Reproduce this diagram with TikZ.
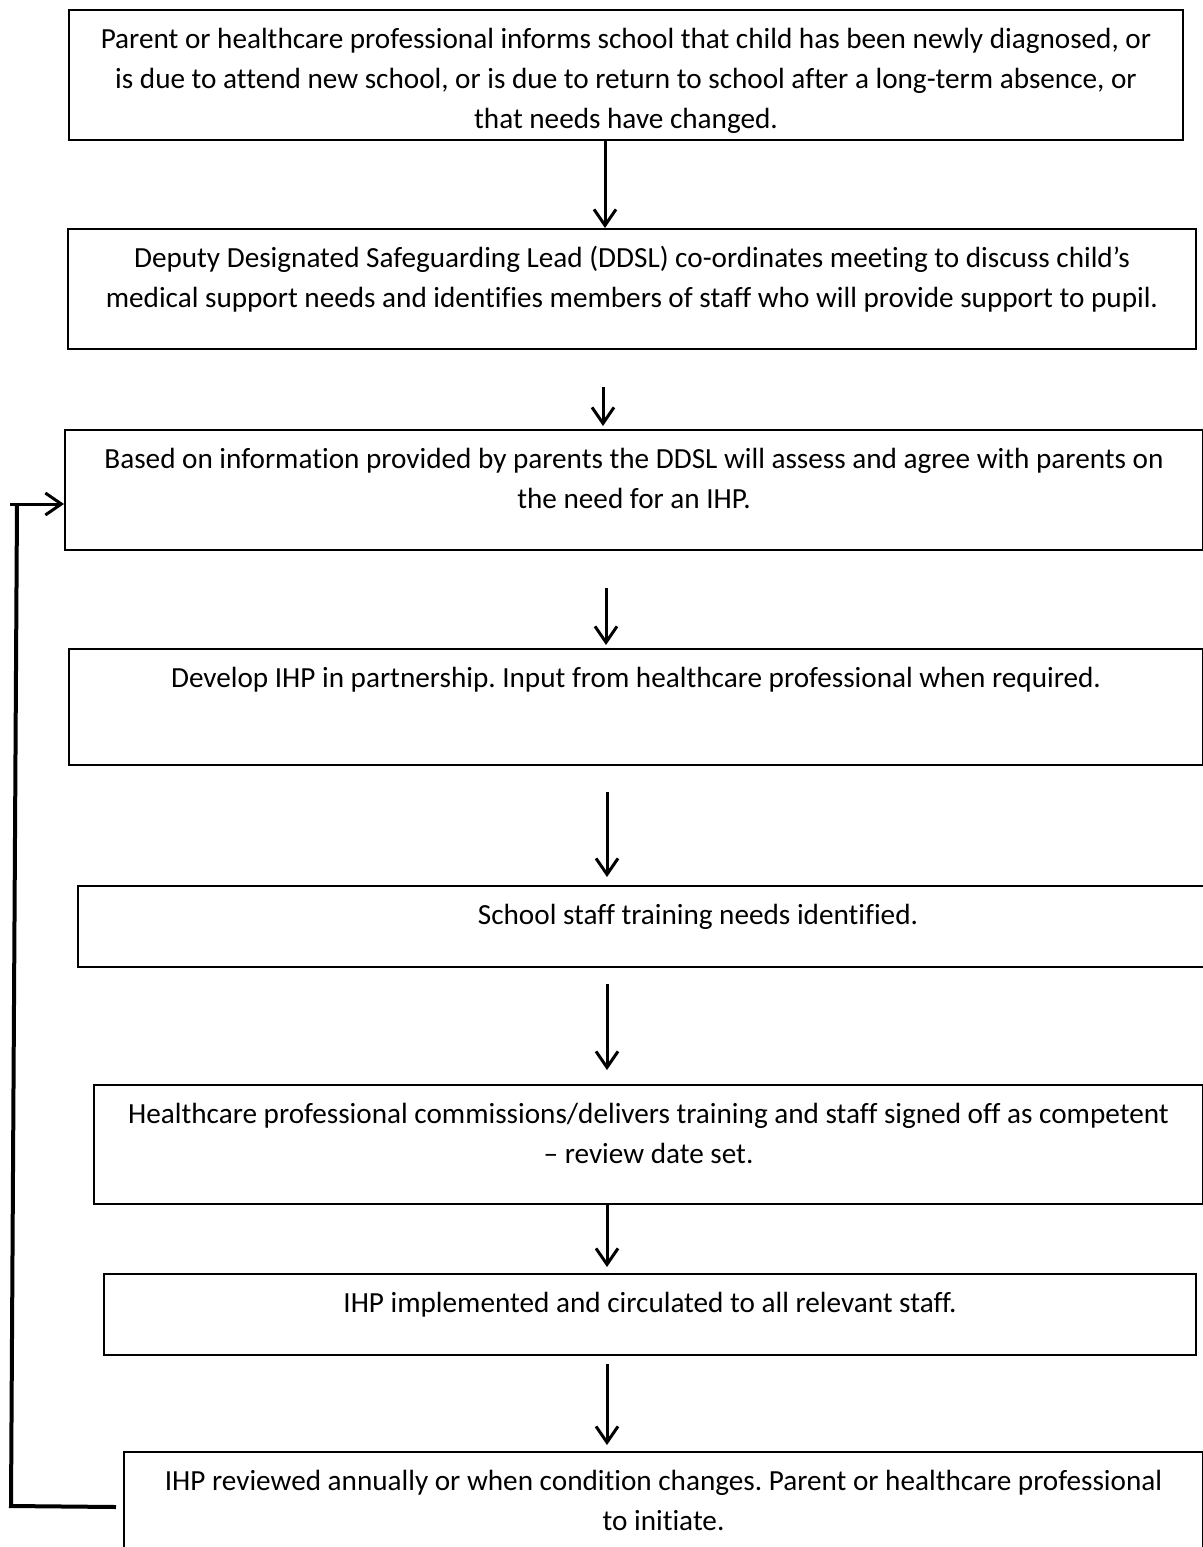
\documentclass[tikz,border=0pt]{standalone}
\usepackage{fontspec}
\setmainfont{Carlito}[Ligatures=NoCommon]
\usetikzlibrary{arrows.meta}
\frenchspacing

\tikzset{
stage/.style={draw, line width=1pt, inner sep=0pt, anchor=north west, font=\fontsize{14.6}{20}\selectfont},
flow/.style={-{Straight Barb[length=8pt, width=11pt]}, line width=1.5pt},
back/.style={line width=2pt}
}

\newcommand{\stagetext}[3]{\parbox[t][#2][t]{#1}{\centering\rule{0pt}{19pt}#3}}

\begin{document}
\begin{tikzpicture}[x=0.5pt, y=-0.5pt]

\useasboundingbox (0,0) rectangle (1203,1547);
\clip (0,0) rectangle (1203,1547);

\node[stage] (b1) at (68,9) {\stagetext{557pt}{65pt}{Parent or healthcare professional informs school that child has been newly diagnosed, or\\ is due to attend new school, or is due to return to school after a long-term absence, or\\ that needs have changed.}};

\node[stage] (b2) at (67,228) {\stagetext{564pt}{60pt}{Deputy Designated Safeguarding Lead (DDSL) co-ordinates meeting to discuss child’s\\ medical support needs and identifies members of staff who will provide support to pupil.}};

\node[stage] (b3) at (64,429) {\stagetext{569pt}{60pt}{Based on information provided by parents the DDSL will assess and agree with parents on\\ the need for an IHP.}};

\node[stage] (b4) at (68,648) {\stagetext{567pt}{58pt}{Develop IHP in partnership. Input from healthcare professional when required.}};

\node[stage] (b5) at (77,885) {\stagetext{620pt}{40.5pt}{School staff training needs identified.}};

\node[stage] (b6) at (93,1084) {\stagetext{554.5pt}{59.5pt}{Healthcare professional commissions/delivers training and staff signed off as competent\\ – review date set.}};

\node[stage] (b7) at (103,1273) {\stagetext{546pt}{40.5pt}{IHP implemented and circulated to all relevant staff.}};

\node[stage] (b8) at (123,1451) {\stagetext{539.5pt}{55pt}{IHP reviewed annually or when condition changes. Parent or healthcare professional\\ to initiate.}};

\draw[flow] (605,0 |- b1.south) -- (605,0 |- b2.north);
\draw[flow, shorten <=18.5pt, shorten >=1.5pt] (603,0 |- b2.south) -- (603,0 |- b3.north);
\draw[flow, shorten <=18.5pt, shorten >=1.5pt] (606,0 |- b3.south) -- (606,0 |- b4.north);
\draw[flow, shorten <=13pt, shorten >=4pt] (607,0 |- b4.south) -- (607,0 |- b5.north);
\draw[flow, shorten <=8pt, shorten >=7pt] (607,0 |- b5.south) -- (607,0 |- b6.north);
\draw[flow, shorten >=3pt] (607,0 |- b6.south) -- (607,0 |- b7.north);
\draw[flow, shorten <=4pt, shorten >=3pt] (607,0 |- b7.south) -- (607,0 |- b8.north);

\coordinate (lb) at (11,1506);
\coordinate (lt) at (17,504);
\draw[back] ([xshift=-3.5pt]b8.west) -- (lb) -- (lt);
\draw[flow] ([xshift=-3.5pt]lt) -- (lt -| b3.west);

\end{tikzpicture}
\end{document}
